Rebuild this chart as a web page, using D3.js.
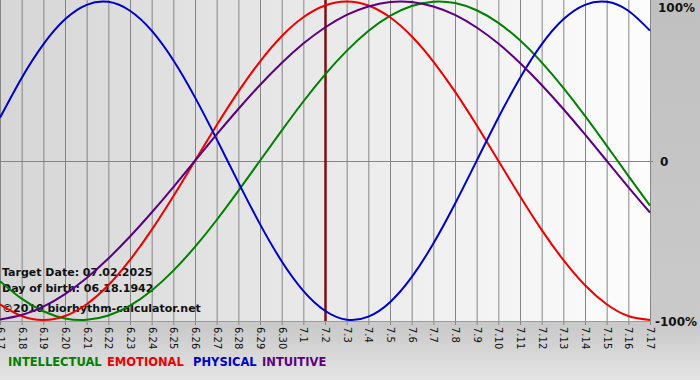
<!DOCTYPE html>
<html>
<head>
<meta charset="utf-8">
<script src="https://cdn.jsdelivr.net/npm/d3@7"></script>
<style>
	body { margin: 0; padding: 0; }
	svg { display: block; font-family: "DejaVu Sans", Verdana, sans-serif; }
</style>
</head>
<body>
<div id="chart"></div>
<script>
// day labels along the bottom (6.17 .. 7.17)
var days = ["6.17","6.18","6.19","6.20","6.21","6.22","6.23","6.24","6.25","6.26","6.27","6.28","6.29","6.30",
	"7.1","7.2","7.3","7.4","7.5","7.6","7.7","7.8","7.9","7.10","7.11","7.12","7.13","7.14","7.15","7.16","7.17"];

// one value per day, -1 .. 1
var physical = [0.270, 0.520, 0.731, 0.888, 0.979, 0.998, 0.942, 0.817, 0.631, 0.398, 0.136, -0.136, -0.398, -0.631,
	-0.817, -0.942, -0.998, -0.979, -0.888, -0.731, -0.520, -0.270, 0, 0.270, 0.520, 0.731, 0.888, 0.979, 0.998, 0.942, 0.817];
var emotional = [-0.901, -0.975, -1, -0.975, -0.901, -0.782, -0.623, -0.434, -0.223, 0, 0.223, 0.434, 0.623, 0.782,
	0.901, 0.975, 1, 0.975, 0.901, 0.782, 0.623, 0.434, 0.223, 0, -0.223, -0.434, -0.623, -0.782, -0.901, -0.975, -1];
var intellectual = [-0.756, -0.866, -0.945, -0.990, -0.999, -0.972, -0.910, -0.815, -0.690, -0.541, -0.372, -0.189,
	0, 0.189, 0.372, 0.541, 0.690, 0.815, 0.910, 0.972, 0.999, 0.990, 0.945, 0.866, 0.756, 0.618, 0.458, 0.282, 0.095, -0.095, -0.282];
var intuitive = [-0.997, -0.969, -0.916, -0.837, -0.736, -0.614, -0.476, -0.325, -0.165, 0, 0.165, 0.325, 0.476, 0.614,
	0.736, 0.837, 0.916, 0.969, 0.997, 0.997, 0.969, 0.916, 0.837, 0.736, 0.614, 0.476, 0.325, 0.165, 0, -0.165, -0.325];

var targetDay = "7.2";
var yLabels = [{v: 1, t: "100%"}, {v: 0, t: "0"}, {v: -1, t: "-100%"}];
var infoLines = ["Target Date: 07.02.2025", "Day of birth: 06.18.1942", "\u00a92010 biorhythm-calculator.net"];

var series = [
	{name: "INTELLECTUAL", values: intellectual, color: "#008000"},
	{name: "EMOTIONAL", values: emotional, color: "#ee0000"},
	{name: "PHYSICAL", values: physical, color: "#0000cc"},
	{name: "INTUITIVE", values: intuitive, color: "#5c0080"}
];

var width = 700, height = 380;
var plot = {left: 0, right: 651, top: 0, bottom: 321};

var x = d3.scalePoint()
	.domain(days)
	.range([0, 650]);
var y = d3.scaleLinear()
	.domain([-1, 1])
	.range([320, 1.5]);

var svg = d3.select("#chart").append("svg")
	.attr("width", width)
	.attr("height", height);

var defs = svg.append("defs");
var bgGrad = defs.append("linearGradient")
	.attr("id", "bgGrad")
	.attr("x1", "0").attr("y1", "0")
	.attr("x2", "0").attr("y2", "1");
bgGrad.append("stop").attr("offset", "0").attr("stop-color", "#c0c0c0");
bgGrad.append("stop").attr("offset", "0.86").attr("stop-color", "#cacaca");
bgGrad.append("stop").attr("offset", "1").attr("stop-color", "#e4e4e4");

var plotGrad = defs.append("linearGradient")
	.attr("id", "plotGrad")
	.attr("x1", "0").attr("y1", "0")
	.attr("x2", "1").attr("y2", "0");
plotGrad.append("stop").attr("offset", "0").attr("stop-color", "#d6d6d6");
plotGrad.append("stop").attr("offset", "1").attr("stop-color", "#fdfdfd");

// backgrounds
svg.append("rect")
	.attr("width", width)
	.attr("height", height)
	.attr("fill", "url(#bgGrad)");
svg.append("rect")
	.attr("x", plot.left)
	.attr("y", plot.top)
	.attr("width", plot.right - plot.left)
	.attr("height", plot.bottom - plot.top)
	.attr("fill", "url(#plotGrad)");

// vertical grid + ticks
var grid = svg.append("g").attr("class", "grid");
grid.selectAll(".vline")
	.data(days)
	.enter()
		.append("line")
		.attr("class", "vline")
		.attr("x1", function(d) { return x(d) + 0.5; })
		.attr("x2", function(d) { return x(d) + 0.5; })
		.attr("y1", plot.top)
		.attr("y2", plot.bottom + 4)
		.attr("stroke", "#858585")
		.attr("stroke-width", 1);
grid.append("line")
	.attr("x1", 0)
	.attr("x2", 653)
	.attr("y1", Math.round(y(0)) + 0.5)
	.attr("y2", Math.round(y(0)) + 0.5)
	.attr("stroke", "#858585");
grid.append("line")
	.attr("x1", 0)
	.attr("x2", plot.right)
	.attr("y1", plot.bottom + 0.5)
	.attr("y2", plot.bottom + 0.5)
	.attr("stroke", "#9a9a9a");

// info text
var info = svg.append("g").attr("class", "info");
info.selectAll("text")
	.data(infoLines)
	.enter()
		.append("text")
		.attr("x", 2)
		.attr("y", function(d, i) { return [276, 292, 312][i]; })
		.attr("font-size", "11px")
		.attr("font-weight", "bold")
		.attr("fill", "#111")
		.text(function(d) { return d; });

// target day marker
svg.append("line")
	.attr("x1", x(targetDay) + 0.5)
	.attr("x2", x(targetDay) + 0.5)
	.attr("y1", plot.top)
	.attr("y2", plot.bottom)
	.attr("stroke", "#7a1010")
	.attr("stroke-width", 2.5);

// curves
var line = d3.line()
	.x(function(d, i) { return x(days[i]); })
	.y(function(d) { return y(d); })
	.curve(d3.curveNatural);

svg.append("g")
	.attr("class", "curves")
	.selectAll("path")
	.data(series)
	.enter()
		.append("path")
		.attr("d", function(s) { return line(s.values); })
		.attr("fill", "none")
		.attr("stroke", function(s) { return s.color; })
		.attr("stroke-width", 2);

// day labels, rotated (the first one sits on the left edge, cut off as in the original)
svg.append("g")
	.attr("class", "day-labels")
	.selectAll("text")
	.data(days)
	.enter()
		.append("text")
		.attr("x", function(d) { return x(d) + 0.5; })
		.attr("y", 327)
		.attr("transform", function(d) { return "rotate(90," + (x(d) + 0.5) + ",327)"; })
		.attr("dy", "0.35em")
		.attr("font-size", "10px")
		.attr("fill", "#111")
		.text(function(d) { return d; });

// right hand percentage labels
svg.append("g")
	.attr("class", "y-labels")
	.selectAll("text")
	.data(yLabels)
	.enter()
		.append("text")
		.attr("x", function(d) { return d.v == 0 ? 660 : (d.v > 0 ? 658 : 655); })
		.attr("y", function(d) { return d.v == 1 ? 12 : (d.v == 0 ? 166 : 326); })
		.attr("font-size", "12px")
		.attr("font-weight", "bold")
		.attr("fill", "#111")
		.text(function(d) { return d.t; });

// legend
var legendX = [8, 107, 193, 262];
svg.append("g")
	.attr("class", "legend")
	.selectAll("text")
	.data(series)
	.enter()
		.append("text")
		.attr("x", function(d, i) { return legendX[i]; })
		.attr("y", 366)
		.attr("font-size", "11.5px")
		.attr("font-weight", "bold")
		.attr("fill", function(s) { return s.color; })
		.text(function(s) { return s.name; });
</script>
</body>
</html>
